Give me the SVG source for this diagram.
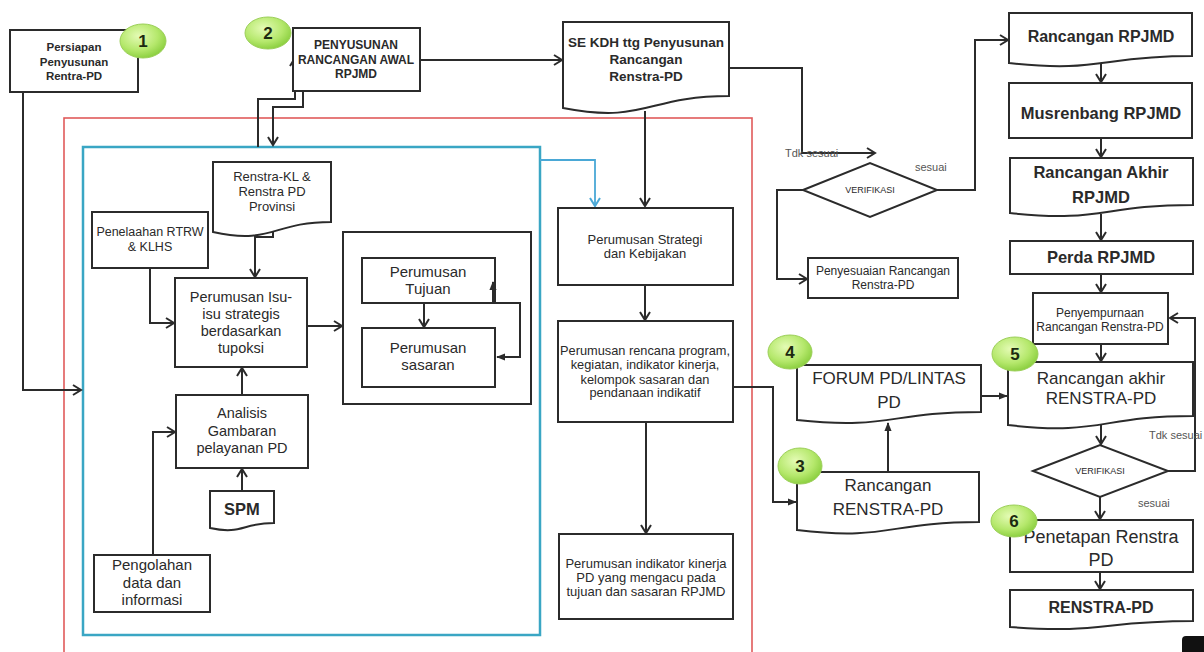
<svg xmlns="http://www.w3.org/2000/svg" width="1204" height="652" viewBox="0 0 1204 652">
<defs>
<style>
.box{fill:#fff;stroke:#2b2b2b;stroke-width:2}
.frame{fill:none;stroke:#2b2b2b;stroke-width:2}
.c{fill:none;stroke:#2b2b2b;stroke-width:2}
.t{font-family:"Liberation Sans",Arial,sans-serif;fill:#2a2a2a;text-anchor:middle}
.b{font-weight:bold}
.g{font-family:"Liberation Sans",Arial,sans-serif;fill:#555;font-size:11px}
.num{font-family:"Liberation Sans",Arial,sans-serif;font-weight:bold;font-size:17px;fill:#1c2a10;text-anchor:middle}
.badge{fill:url(#gr);stroke:#9ccf5a;stroke-width:1}
</style>
<radialGradient id="gr" cx="0.4" cy="0.35" r="0.7">
<stop offset="0" stop-color="#e4fbb5"/>
<stop offset="0.6" stop-color="#b5e86c"/>
<stop offset="1" stop-color="#86cc3a"/>
</radialGradient>
<marker id="a" viewBox="0 0 12 12" markerWidth="12" markerHeight="12" refX="10" refY="6" orient="auto" markerUnits="userSpaceOnUse">
<path d="M2,1 L10,6 L2,11" fill="none" stroke="#2b2b2b" stroke-width="2"/>
</marker>
<marker id="ac" viewBox="0 0 12 12" markerWidth="12" markerHeight="12" refX="10" refY="6" orient="auto" markerUnits="userSpaceOnUse">
<path d="M2,1 L10,6 L2,11" fill="none" stroke="#4aa8d6" stroke-width="2"/>
</marker>
<marker id="f" viewBox="0 0 10 10" markerWidth="9" markerHeight="9" refX="9" refY="5" orient="auto-start-reverse" markerUnits="userSpaceOnUse">
<path d="M0,1 L10,5 L0,9 Z" fill="#2b2b2b"/>
</marker>
</defs>
<rect width="1204" height="652" fill="#fff"/>

<g id="frames">
<rect x="64" y="118" width="688" height="540" fill="none" stroke="#e05a5a" stroke-width="1.6"/>
<rect x="83" y="147" width="457" height="488" fill="none" stroke="#3aa6c4" stroke-width="2.5"/>
</g>

<g id="connectors">
<path class="c" d="M23,92 V390 H81" marker-end="url(#a)"/>
<path class="c" d="M258,147 V99 H295 V58" marker-end="url(#a)"/>
<path class="c" d="M303,73 V107 H273 V145" marker-end="url(#a)"/>
<path class="c" d="M420,60 H562" marker-end="url(#a)"/>
<path class="c" d="M645,111 V206" marker-end="url(#a)"/>
<path d="M540,160 H595 V206" fill="none" stroke="#4aa8d6" stroke-width="1.8" marker-end="url(#ac)"/>
<path class="c" d="M729,68 H802 V153 H875" marker-end="url(#a)"/>
<path class="c" d="M937,190 H975 V40 H1008" marker-end="url(#a)"/>
<path class="c" d="M803,190 H777 V279 H807" marker-end="url(#a)"/>
<path class="c" d="M1101,59 V82" marker-end="url(#a)"/>
<path class="c" d="M1101,138 V157" marker-end="url(#a)"/>
<path class="c" d="M1101,214 V240" marker-end="url(#a)"/>
<path class="c" d="M1101,274 V292" marker-end="url(#a)"/>
<path class="c" d="M1101,344 V361" marker-end="url(#a)"/>
<path class="c" d="M1101,421 V444" marker-end="url(#a)"/>
<path class="c" d="M1168,471 H1195 V318 H1170" marker-end="url(#a)"/>
<path class="c" d="M1100,497 V519" marker-end="url(#a)"/>
<path class="c" d="M1100,572 V589" marker-end="url(#a)"/>
<path class="c" d="M733,387 H773 V502 H796" marker-end="url(#f)"/>
<path class="c" d="M888,472 V423" marker-end="url(#f)"/>
<path class="c" d="M981,396 H1007" marker-end="url(#f)"/>
<path class="c" d="M273,229 V237 H255 V277" marker-end="url(#a)"/>
<path class="c" d="M150,268 V323 H174" marker-end="url(#a)"/>
<path class="c" d="M307,326 H342" marker-end="url(#a)"/>
<path class="c" d="M424,303 V327" marker-end="url(#a)"/>
<path class="c" d="M497,357 H520 V303 H493 V282" marker-start="url(#f)" marker-end="url(#f)"/>
<path class="c" d="M242,395 V368" marker-end="url(#a)"/>
<path class="c" d="M242,491 V469" marker-end="url(#a)"/>
<path class="c" d="M153,555 V432 H175" marker-end="url(#a)"/>
<path class="c" d="M645,285 V320" marker-end="url(#a)"/>
<path class="c" d="M646,422 V533" marker-end="url(#a)"/>
</g>

<g id="labels">
<text class="g" x="785" y="157">Tdk sesuai</text>
<text class="g" x="915" y="171">sesuai</text>
<text class="g" x="1149" y="439">Tdk sesuai</text>
<text class="g" x="1138" y="507">sesuai</text>
</g>

<g id="n1">
<rect class="box" x="10" y="30" width="128" height="62"/>
<text class="t b" font-size="11.5"><tspan x="74" y="51">Persiapan</tspan><tspan x="74" y="66">Penyusunan</tspan><tspan x="74" y="80">Rentra-PD</tspan></text>
</g>
<g id="n2">
<rect class="box" x="293" y="28" width="127" height="63"/>
<text class="t b" font-size="12"><tspan x="356" y="49">PENYUSUNAN</tspan><tspan x="356" y="64">RANCANGAN AWAL</tspan><tspan x="356" y="78">RPJMD</tspan></text>
</g>
<g id="se-kdh">
<path class="box" d="M563,22 H729 V96 C646,96 646,124 563,108 Z"/>
<text class="t b" font-size="13.5"><tspan x="646" y="47">SE KDH ttg Penyusunan</tspan><tspan x="646" y="64">Rancangan</tspan><tspan x="646" y="81">Renstra-PD</tspan></text>
</g>
<g id="renstra-kl">
<path class="box" d="M213,162 H331 V222 C272,222 272,245 213,232 Z"/>
<text class="t" font-size="13"><tspan x="272" y="181">Renstra-KL &amp;</tspan><tspan x="272" y="196">Renstra PD</tspan><tspan x="272" y="211">Provinsi</tspan></text>
</g>
<g id="penelaahan">
<rect class="box" x="92" y="212" width="116" height="56"/>
<text class="t" font-size="12.5"><tspan x="150" y="236">Penelaahan RTRW</tspan><tspan x="150" y="251">&amp; KLHS</tspan></text>
</g>
<g id="isu">
<rect class="box" x="175" y="278" width="132" height="89"/>
<text class="t" font-size="14.5"><tspan x="241" y="302">Perumusan Isu-</tspan><tspan x="241" y="319">isu strategis</tspan><tspan x="241" y="336">berdasarkan</tspan><tspan x="241" y="353">tupoksi</tspan></text>
</g>
<g id="tujuan-sasaran">
<rect class="frame" x="343" y="232" width="188" height="172"/>
</g>
<g id="tujuan">
<rect class="frame" x="362" y="258" width="133" height="45"/>
<text class="t" font-size="15"><tspan x="428" y="277">Perumusan</tspan><tspan x="428" y="294">Tujuan</tspan></text>
</g>
<g id="sasaran">
<rect class="frame" x="362" y="328" width="133" height="59"/>
<text class="t" font-size="15"><tspan x="428" y="353">Perumusan</tspan><tspan x="428" y="370">sasaran</tspan></text>
</g>
<g id="analisis">
<rect class="box" x="176" y="395" width="132" height="73"/>
<text class="t" font-size="14.5"><tspan x="242" y="418">Analisis</tspan><tspan x="242" y="436">Gambaran</tspan><tspan x="242" y="453">pelayanan PD</tspan></text>
</g>
<g id="spm">
<path class="box" d="M210,491 H274 V523 C242,523 242,535 210,528 Z"/>
<text class="t b" font-size="16.5" x="242" y="515">SPM</text>
</g>
<g id="pengolahan">
<rect class="box" x="94" y="555" width="116" height="57"/>
<text class="t" font-size="15"><tspan x="152" y="570">Pengolahan</tspan><tspan x="152" y="588">data dan</tspan><tspan x="152" y="605">informasi</tspan></text>
</g>
<g id="strategi">
<rect class="box" x="558" y="208" width="175" height="77"/>
<text class="t" font-size="13"><tspan x="645" y="244">Perumusan Strategi</tspan><tspan x="645" y="258">dan Kebijakan</tspan></text>
</g>
<g id="rencana">
<rect class="box" x="558" y="321" width="175" height="101"/>
<text class="t" font-size="12.8"><tspan x="645" y="355">Perumusan rencana program,</tspan><tspan x="645" y="369">kegiatan, indikator kinerja,</tspan><tspan x="645" y="384">kelompok sasaran dan</tspan><tspan x="645" y="397">pendanaan indikatif</tspan></text>
</g>
<g id="indikator">
<rect class="box" x="559" y="534" width="174" height="85"/>
<text class="t" font-size="13"><tspan x="646" y="568">Perumusan indikator kinerja</tspan><tspan x="646" y="582">PD yang mengacu pada</tspan><tspan x="646" y="596">tujuan dan sasaran RPJMD</tspan></text>
</g>
<g id="verifikasi1">
<polygon class="box" points="803,190 870,163 937,190 870,217"/>
<text class="t" font-size="9" x="870" y="193">VERIFIKASI</text>
</g>
<g id="penyesuaian">
<rect class="box" x="808" y="258" width="150" height="40"/>
<text class="t" font-size="12"><tspan x="883" y="275">Penyesuaian Rancangan</tspan><tspan x="883" y="289">Renstra-PD</tspan></text>
</g>
<g id="rancangan-rpjmd">
<path class="box" d="M1009,13 H1192 V56 C1100,56 1100,73 1009,63 Z"/>
<text class="t b" font-size="16" x="1101" y="42">Rancangan RPJMD</text>
</g>
<g id="musrenbang">
<rect class="box" x="1009" y="83" width="183" height="55"/>
<text class="t b" font-size="16.5" x="1101" y="119">Musrenbang RPJMD</text>
</g>
<g id="akhir-rpjmd">
<path class="box" d="M1010,158 H1193 V205 C1101,205 1101,223 1010,213 Z"/>
<text class="t b" font-size="16.5"><tspan x="1101" y="178">Rancangan Akhir</tspan><tspan x="1101" y="203">RPJMD</tspan></text>
</g>
<g id="perda">
<rect class="box" x="1010" y="241" width="183" height="33"/>
<text class="t b" font-size="16.5" x="1101" y="263">Perda RPJMD</text>
</g>
<g id="penyempurnaan">
<rect class="box" x="1033" y="293" width="135" height="51"/>
<text class="t" font-size="12"><tspan x="1100" y="317">Penyempurnaan</tspan><tspan x="1100" y="331">Rancangan Renstra-PD</tspan></text>
</g>
<g id="akhir-renstra">
<path class="box" d="M1008,362 H1193 V416 C1100,416 1100,436 1008,425 Z"/>
<text class="t" font-size="17"><tspan x="1101" y="384">Rancangan akhir</tspan><tspan x="1101" y="404">RENSTRA-PD</tspan></text>
</g>
<g id="verifikasi2">
<polygon class="box" points="1033,471 1100,445 1168,471 1100,497"/>
<text class="t" font-size="9" x="1100" y="474">VERIFIKASI</text>
</g>
<g id="penetapan">
<rect class="box" x="1010" y="520" width="183" height="52"/>
<text class="t" font-size="18"><tspan x="1101" y="543">Penetapan Renstra</tspan><tspan x="1101" y="566">PD</tspan></text>
</g>
<g id="renstra-pd">
<path class="box" d="M1010,590 H1193 V621 C1101,621 1101,634 1010,627 Z"/>
<text class="t b" font-size="16" x="1101" y="613">RENSTRA-PD</text>
</g>
<g id="forum">
<path class="box" d="M797,365 H981 V412 C889,412 889,430 797,420 Z"/>
<text class="t" font-size="17"><tspan x="889" y="384">FORUM PD/LINTAS</tspan><tspan x="889" y="408">PD</tspan></text>
</g>
<g id="rancangan-renstra">
<path class="box" d="M797,472 H979 V522 C888,522 888,541 797,530 Z"/>
<text class="t" font-size="17"><tspan x="888" y="491">Rancangan</tspan><tspan x="888" y="515">RENSTRA-PD</tspan></text>
</g>

<g id="badges">
<ellipse class="badge" cx="143" cy="41" rx="23" ry="17"/><text class="num" x="143" y="47">1</text>
<ellipse class="badge" cx="268" cy="33" rx="23" ry="16"/><text class="num" x="268" y="39">2</text>
<ellipse class="badge" cx="800" cy="466" rx="22" ry="18"/><text class="num" x="800" y="472">3</text>
<ellipse class="badge" cx="790" cy="352" rx="22" ry="17"/><text class="num" x="790" y="358">4</text>
<ellipse class="badge" cx="1015" cy="354" rx="23" ry="17"/><text class="num" x="1015" y="360">5</text>
<ellipse class="badge" cx="1014" cy="521" rx="23" ry="16"/><text class="num" x="1014" y="527">6</text>
</g>
<rect x="1182" y="636" width="30" height="22" rx="4" fill="#111"/>
</svg>
